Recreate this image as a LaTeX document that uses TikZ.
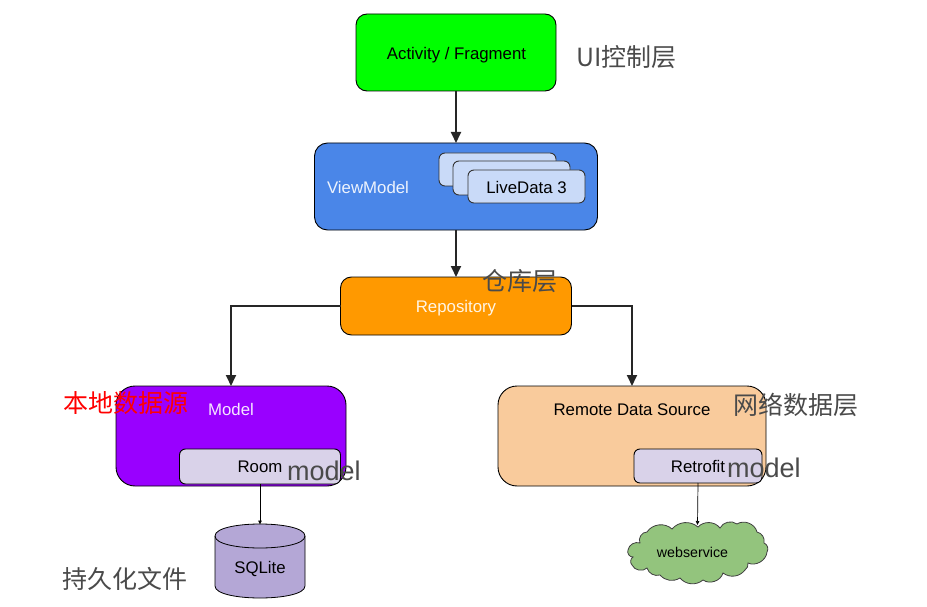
\documentclass[tikz,border=0pt]{standalone}
\usepackage{fontspec}
\setmainfont{Liberation Sans}
\newfontfamily\cjk{Noto Sans CJK SC}
\usetikzlibrary{arrows.meta}
\definecolor{cGreen}{HTML}{00FF00}
\definecolor{cBlue}{HTML}{4A86E8}
\definecolor{cOrange}{HTML}{FF9900}
\definecolor{cPurple}{HTML}{9900FF}
\definecolor{cPeach}{HTML}{F9CB9C}
\definecolor{cLav}{HTML}{D9D2E9}
\definecolor{cLight}{HTML}{C9DAF8}
\definecolor{cDb}{HTML}{B4A7D6}
\definecolor{cCloud}{HTML}{93C47D}
\definecolor{cNote}{HTML}{4A4A4A}
\newcommand{\fs}[1]{\fontsize{#1}{#1}\selectfont}
\tikzset{
  x=1pt,y=-1pt,
  boxstyle/.style={draw=black,line width=0.9pt,rounded corners=#1,inner sep=0pt,outer sep=0pt,anchor=north west},
  boxstyle/.default=11pt,
  bigarrow/.style={draw=black!85,line width=1.8pt,-{Triangle[length=11pt,width=10pt]}},
  thinarrow/.style={draw=black,line width=0.7pt,-{Triangle[length=4pt,width=3.5pt]}},
  note/.style={text=cNote,inner sep=0pt,font=\fs{27}},
  cnote/.style={text=cNote,inner sep=0pt,font=\cjk\fs{25}},
  label/.style={inner sep=0pt,font=\fs{16.8}}
}
\begin{document}
\begin{tikzpicture}
\useasboundingbox (0,0) rectangle (927,607);
\node[boxstyle,fill=cGreen,minimum width=200pt,minimum height=77pt] (activity) at (356,14) {};
\node[label] (activitytext) at (456.5,55) {Activity / Fragment};
\node[boxstyle=13pt,fill=cBlue,minimum width=283pt,minimum height=87pt] (viewmodel) at (314.5,143) {};
\node[label,text=white!90!cBlue] (vmtext) at (368,187) {ViewModel};
\node[boxstyle=6pt,fill=cLight,draw=black!80,minimum width=117pt,minimum height=33pt] (ld1) at (439,153) {};
\node[boxstyle=6pt,fill=cLight,draw=black!80,minimum width=117pt,minimum height=34pt] (ld2) at (453,161) {};
\node[boxstyle=6pt,fill=cLight,draw=black!80,minimum width=117pt,minimum height=33pt] (ld3) at (468,170) {};
\node[label] (ld3text) at (526.5,187.5) {LiveData 3};
\node[boxstyle,fill=cOrange,minimum width=231pt,minimum height=58pt] (repo) at (340.5,277) {};
\node[label,text=white!90!cOrange] (repotext) at (456,308) {Repository};
\node[boxstyle=19pt,fill=cPurple,minimum width=230pt,minimum height=100pt] (model) at (116,386) {};
\node[label,text=white!90!cPurple] (modeltext) at (231,409) {Model};
\node[boxstyle=6pt,fill=cLav,minimum width=161pt,minimum height=35pt] (room) at (179.5,449) {};
\node[label] (roomtext) at (260,467) {Room};
\node[boxstyle=19pt,fill=cPeach,minimum width=268pt,minimum height=100pt] (remote) at (498,386) {};
\node[label] (remotetext) at (632,409.5) {Remote Data Source};
\node[boxstyle=6pt,fill=cLav,minimum width=128pt,minimum height=34pt] (retrofit) at (634,449) {};
\node[label] (retrofittext) at (698,466.5) {Retrofit};
% cylinder
\path[draw=black,line width=0.8pt,fill=cDb]
  (215,536) .. controls (215,520) and (305,520) .. (305,536)
  -- (305,586) .. controls (305,602) and (215,602) .. (215,586) -- cycle;
\path[draw=black,line width=0.8pt]
  (215,536) .. controls (215,552) and (305,552) .. (305,536);
\node[inner sep=0pt,outer sep=0pt,minimum width=90pt,minimum height=73pt] (db) at (260,561) {};
\node[label] (dbtext) at (260,569) {SQLite};
% cloud
\path[draw=black!75,line width=0.8pt,fill=cCloud]
  (628,550) to[bend left=50] (640,543) to[bend left=60] (647,532)
  to[bend left=50] (672,529) to[bend left=45] (698,527)
  to[bend left=50] (720,528) to[bend left=50] (737,524)
  to[bend left=55] (757,532) to[bend left=45] (764,543)
  to[bend left=50] (767,552) to[bend left=55] (748,563)
  to[bend left=30] (745,570) to[bend left=45] (723,573)
  to[bend left=55] (703,580) to[bend left=45] (680,578)
  to[bend left=40] (660,575) to[bend left=45] (647,568)
  to[bend left=55] (632,565) to[bend left=50] (633,557)
  to[bend left=60] cycle;
\node[inner sep=0pt,outer sep=0pt,minimum width=140pt,minimum height=55pt] (web) at (697.5,552.5) {};
\node[inner sep=0pt,font=\fs{14.2}] (webtext) at (692.5,552) {webservice};
\draw[bigarrow] (activity.south) -- (viewmodel.north);
\draw[bigarrow] (viewmodel.south) -- (repo.north);
\draw[bigarrow] (repo.west) -| (model.north);
\draw[bigarrow] (repo.east) -| (remote.north);
\draw[thinarrow] (room.south) -- (db.north);
\draw[thinarrow] (retrofit.south) -- (web.north);
\node[cnote,anchor=west] (n1) at (576,57) {UI控制层};
\node[cnote,anchor=west] (n2) at (482,281) {仓库层};
\node[cnote,anchor=west,text=red] (n3) at (63,403) {本地数据源};
\node[cnote,anchor=west] (n4) at (733,405) {网络数据层};
\node[cnote,anchor=west] (n5) at (62,579) {持久化文件};
\node[note,anchor=west] (n6) at (287,471) {model};
\node[note,anchor=west] (n7) at (727,468) {model};
\end{tikzpicture}
\end{document}
